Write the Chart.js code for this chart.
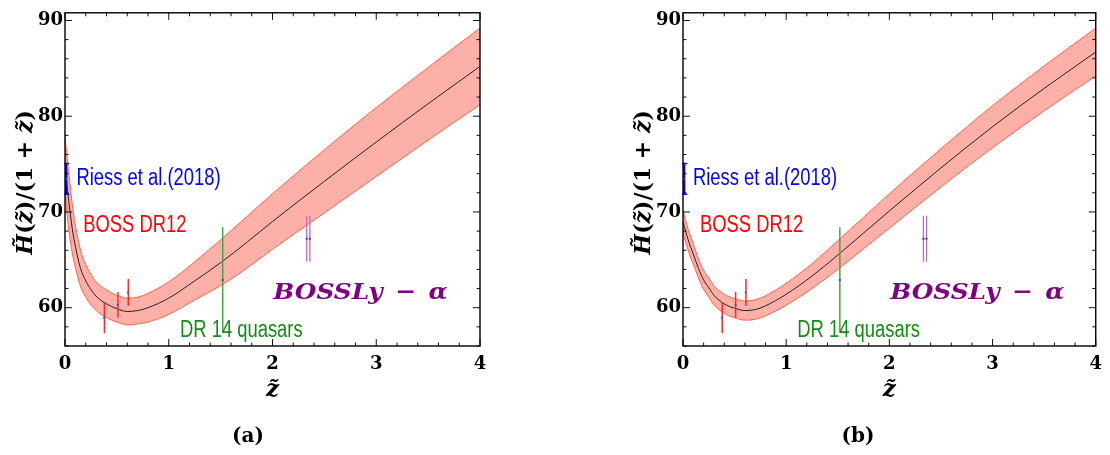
<!DOCTYPE html>
<html>
<head>
<meta charset="utf-8">
<script src="https://cdn.jsdelivr.net/npm/chart.js@4.4.1/dist/chart.umd.min.js"></script>
<style>
  body { margin: 0; background: #fff; }
  #wrap { display: flex; width: 1110px; height: 455px; }
  canvas { display: block; }
</style>
</head>
<body>
<div id="wrap">
  <canvas id="panelA" width="555" height="455"></canvas>
  <canvas id="panelB" width="555" height="455"></canvas>
</div>
<script>
// redshift grid the curves were read on
const zGrid = [0, 0.025, 0.05, 0.075, 0.1, 0.15, 0.2, 0.25, 0.3, 0.4, 0.5, 0.6, 0.7, 0.8, 1.0, 1.25, 1.5, 1.75, 2.0, 2.5, 3.0, 3.5, 4.0];

// panel (a)
const centerA = [75.0, 72.2, 69.9, 67.9, 66.4, 64.1, 62.8, 61.9, 61.2, 60.4, 59.9, 59.6, 59.7, 60.0, 61.0, 62.8, 64.7, 66.8, 69.0, 73.2, 77.3, 81.3, 85.2];
const upperA = [77.8, 75.2, 72.7, 70.4, 68.6, 66.0, 64.5, 63.5, 62.7, 61.85, 61.3, 61.0, 61.1, 61.5, 62.7, 64.8, 67.1, 69.5, 71.9, 76.5, 80.9, 85.1, 89.2];
const lowerA = [72.2, 69.2, 67.1, 65.4, 64.2, 62.2, 61.1, 60.3, 59.7, 58.95, 58.5, 58.2, 58.3, 58.5, 59.3, 60.8, 62.3, 64.1, 66.1, 69.9, 73.7, 77.5, 81.2];

// panel (b)
const centerB = [69.0, 68.0, 67.1, 66.3, 65.6, 64.1, 62.9, 62.1, 61.3, 60.4, 59.95, 59.7, 59.8, 60.2, 61.4, 63.3, 65.5, 67.8, 70.1, 74.6, 78.9, 82.9, 86.7];
const upperB = [70.2, 69.15, 68.2, 67.4, 66.65, 65.1, 63.9, 63.1, 62.3, 61.4, 60.95, 60.7, 60.82, 61.25, 62.55, 64.6, 67.0, 69.45, 71.9, 76.6, 81.1, 85.25, 89.2];
const lowerB = [67.8, 66.85, 66.0, 65.2, 64.55, 63.1, 61.9, 61.1, 60.3, 59.4, 58.95, 58.7, 58.78, 59.15, 60.25, 62.0, 64.0, 66.15, 68.3, 72.6, 76.7, 80.55, 84.2];

// measurements (same in both panels)
const riessZ = [0.012], riessH = [73.45], riessErr = [1.6];
const bossZ = [0.38, 0.51, 0.61], bossH = [58.95, 60.3, 61.6], bossErr = [1.6, 1.35, 1.4];
const qsoZ = [1.52], qsoH = [62.9], qsoErr = [5.5];
const lyaZ = [2.33, 2.36], lyaH = [67.2, 67.2], lyaErr = [2.4, 2.4];

const xTickValues = [0, 1, 2, 3, 4];
const yTickValues = [60, 70, 80, 90];

const SANS = "'Liberation Sans', Arial, sans-serif";
const SERIF = "'DejaVu Serif', serif";

function pts(zs, ys) {
  return zs.map((z, i) => ({ x: z, y: ys[i] }));
}

function errorSets(zs, hs, es, color, width, caps) {
  return zs.map((z, i) => ({
    data: [{ x: z, y: hs[i] - es[i] }, { x: z, y: hs[i] }, { x: z, y: hs[i] + es[i] }],
    borderColor: color,
    borderWidth: width,
    pointRadius: (c) => (c.dataIndex === 1 ? 1.2 : 0),
    pointBackgroundColor: "#3d5a9e",
    pointBorderWidth: 0,
    tension: 0,
    caps: !!caps,
  }));
}

function drawText(ctx, txt, x, y, font, color, sx) {
  ctx.save();
  ctx.translate(x, y);
  ctx.scale(sx, 1);
  ctx.font = font;
  ctx.fillStyle = color;
  ctx.textAlign = "left";
  ctx.textBaseline = "alphabetic";
  ctx.fillText(txt, 0, 0);
  ctx.restore();
}

// short caps on the bars that have them (Riess)
const errorCaps = {
  id: "errorCaps",
  afterDatasetsDraw(chart) {
    const { ctx } = chart;
    chart.data.datasets.forEach((ds, i) => {
      if (!ds.caps) return;
      const pts = chart.getDatasetMeta(i).data;
      ctx.save();
      ctx.strokeStyle = ds.borderColor;
      ctx.lineWidth = 1.5;
      ctx.beginPath();
      [pts[0], pts[2]].forEach((p) => {
        ctx.moveTo(p.x - 2, p.y);
        ctx.lineTo(p.x + 3, p.y);
      });
      ctx.stroke();
      ctx.restore();
    });
  },
};

const frameTicks = {
  id: "frameTicks",
  afterDraw(chart) {
    const { ctx, chartArea: a, scales } = chart;
    const x = scales.x, y = scales.y;
    ctx.save();
    ctx.strokeStyle = "#111";
    ctx.lineWidth = 1;
    ctx.beginPath();
    for (let k = 0; k <= 20; k++) {
      const v = k * 0.2;
      const px = x.getPixelForValue(v);
      const len = k % 5 === 0 ? 7 : 3.5;
      ctx.moveTo(px, a.bottom); ctx.lineTo(px, a.bottom - len);
      ctx.moveTo(px, a.top); ctx.lineTo(px, a.top + len);
    }
    for (let v = 56; v <= 90; v += 2) {
      const py = y.getPixelForValue(v);
      const len = v % 10 === 0 ? 7 : 3.5;
      ctx.moveTo(a.left, py); ctx.lineTo(a.left + len, py);
      ctx.moveTo(a.right, py); ctx.lineTo(a.right - len, py);
    }
    ctx.stroke();
    ctx.lineWidth = 1.4;
    ctx.strokeStyle = "#000";
    ctx.strokeRect(a.left, a.top, a.right - a.left, a.bottom - a.top);
    ctx.restore();
  },
};

function makePanel(id, center, upper, lower, padLeft, padRight, labels, tag, tagX) {
  const textPlugin = {
    id: "panelText",
    afterDraw(chart) {
      const { ctx, chartArea: a, scales } = chart;
      const x = scales.x, y = scales.y;
      labels.forEach((l) => {
        drawText(ctx, l.text, x.getPixelForValue(l.z), y.getPixelForValue(l.h), l.font, l.color, l.sx);
      });

      // y axis title, mixed upright / italic
      const parts = [
        ["H\u0303", true], ["(", false], ["z\u0303", true], [")/(1 + ", false], ["z\u0303", true], [")", false],
      ];
      ctx.save();
      ctx.translate(a.left - 39, (a.top + a.bottom) / 2 + 3);
      ctx.rotate(-Math.PI / 2);
      ctx.fillStyle = "#000";
      ctx.textBaseline = "middle";
      ctx.textAlign = "left";
      const fontFor = (it) => (it ? "italic bold 22px " : "bold 22px ") + SERIF;
      let total = 0;
      parts.forEach((p) => { ctx.font = fontFor(p[1]); total += ctx.measureText(p[0]).width; });
      let cx = -total / 2;
      parts.forEach((p) => {
        ctx.font = fontFor(p[1]);
        ctx.fillText(p[0], cx, 0);
        cx += ctx.measureText(p[0]).width;
      });
      ctx.restore();

      // x axis title and panel tag
      ctx.save();
      ctx.font = "italic bold 23px " + SERIF;
      ctx.fillStyle = "#000";
      ctx.textAlign = "center";
      ctx.textBaseline = "middle";
      ctx.fillText("z\u0303", (a.left + a.right) / 2, 390);
      ctx.font = "bold 20px " + SERIF;
      ctx.fillText(tag, tagX, 437);
      ctx.restore();
    },
  };

  return new Chart(document.getElementById(id), {
    type: "line",
    data: {
      datasets: [
        ...errorSets(riessZ, riessH, riessErr, "rgb(0,0,255)", 2.2, true),
        ...errorSets(bossZ, bossH, bossErr, "rgb(255,40,40)", 1.5),
        ...errorSets(qsoZ, qsoH, qsoErr, "rgb(70,165,70)", 1.5),
        ...errorSets(lyaZ, lyaH, lyaErr, "rgb(190,105,200)", 1.3),
        {
          data: pts(zGrid, center),
          borderColor: "#222",
          borderWidth: 1,
          pointRadius: 0,
          cubicInterpolationMode: "monotone",
        },
        {
          data: pts(zGrid, upper),
          borderColor: "rgb(255,99,71)",
          borderWidth: 1,
          pointRadius: 0,
          cubicInterpolationMode: "monotone",
        },
        {
          data: pts(zGrid, lower),
          borderColor: "rgb(255,99,71)",
          borderWidth: 1,
          pointRadius: 0,
          cubicInterpolationMode: "monotone",
          fill: "-1",
          backgroundColor: "rgba(250,128,114,0.62)",
        },
      ],
    },
    options: {
      responsive: false,
      animation: false,
      events: [],
      layout: { padding: { left: padLeft, right: padRight, top: 5, bottom: 69 } },
      plugins: { legend: { display: false }, tooltip: { enabled: false } },
      scales: {
        x: {
          type: "linear",
          min: 0,
          max: 4,
          afterBuildTicks: (s) => { s.ticks = xTickValues.map((v) => ({ value: v })); },
          afterFit: (s) => { s.height = 40; },
          grid: { display: false, drawTicks: false },
          border: { display: false },
          ticks: { padding: 8, color: "#000", font: { family: SERIF, weight: "bold", size: 18 } },
        },
        y: {
          min: 56,
          max: 90.8,
          afterBuildTicks: (s) => { s.ticks = yTickValues.map((v) => ({ value: v })); },
          afterFit: (s) => { s.width = 30; },
          grid: { display: false, drawTicks: false },
          border: { display: false },
          ticks: { padding: 2, color: "#000", font: { family: SERIF, weight: "bold", size: 18 } },
        },
      },
    },
    plugins: [frameTicks, errorCaps, textPlugin],
  });
}

const sansFont = "23px " + SANS;
const lyaFont = "italic bold 23px " + SERIF;

const labelsA = [
  { text: "Riess et al.(2018)", z: 0.11, h: 72.8, color: "rgb(0,0,255)", font: sansFont, sx: 0.8 },
  { text: "BOSS DR12", z: 0.176, h: 67.86, color: "rgb(255,0,0)", font: sansFont, sx: 0.8 },
  { text: "DR 14 quasars", z: 1.108, h: 56.94, color: "rgb(20,140,20)", font: sansFont, sx: 0.8 },
  { text: "BOSSLy\u2002\u2212\u2002\u03b1", z: 2.008, h: 60.92, color: "rgb(128,0,128)", font: lyaFont, sx: 1.08 },
];
const labelsB = [
  { text: "Riess et al.(2018)", z: 0.096, h: 72.8, color: "rgb(0,0,255)", font: sansFont, sx: 0.8 },
  { text: "BOSS DR12", z: 0.164, h: 67.86, color: "rgb(255,0,0)", font: sansFont, sx: 0.8 },
  { text: "DR 14 quasars", z: 1.108, h: 56.94, color: "rgb(20,140,20)", font: sansFont, sx: 0.8 },
  { text: "BOSSLy\u2002\u2212\u2002\u03b1", z: 2.008, h: 60.92, color: "rgb(128,0,128)", font: lyaFont, sx: 1.08 },
];

makePanel("panelA", centerA, upperA, lowerA, 35, 75, labelsA, "(a)", 248);
makePanel("panelB", centerB, upperB, lowerB, 98, 12, labelsB, "(b)", 303);
</script>
</body>
</html>
